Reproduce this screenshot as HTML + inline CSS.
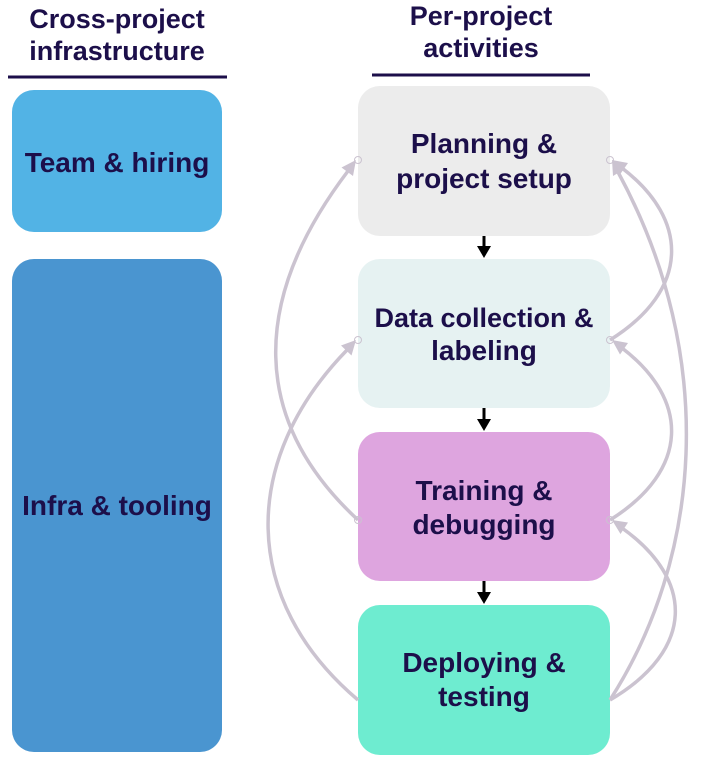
<!DOCTYPE html>
<html><head><style>
html,body{margin:0;padding:0;background:#fff;}
svg{display:block;}
text{font-family:"Liberation Sans",Arial,sans-serif;font-weight:bold;fill:#1c0f4a;text-anchor:middle;}
</style></head><body>
<svg width="704" height="762" viewBox="0 0 704 762" xmlns="http://www.w3.org/2000/svg">
<text x="117" y="28" font-size="27">Cross-project</text>
<text x="117" y="60" font-size="27">infrastructure</text>
<line x1="8" y1="77" x2="227" y2="77" stroke="#1c0f4a" stroke-width="3"/>
<text x="481" y="25" font-size="27">Per-project</text>
<text x="481" y="57" font-size="27">activities</text>
<line x1="372" y1="75" x2="590" y2="75" stroke="#1c0f4a" stroke-width="3"/>

<rect x="12" y="90" width="210" height="142" rx="22" fill="#52b3e5"/>
<text x="117" y="172" font-size="28">Team &amp; hiring</text>
<rect x="12" y="259" width="210" height="493" rx="22" fill="#4a95d0"/>
<text x="117" y="515" font-size="28">Infra &amp; tooling</text>

<rect x="358" y="86" width="252" height="150" rx="22" fill="#ececec"/>
<text x="484" y="153" font-size="28">Planning &amp;</text>
<text x="484" y="188" font-size="28">project setup</text>
<rect x="358" y="259" width="252" height="149" rx="22" fill="#e6f2f2"/>
<text x="484" y="327" font-size="27">Data collection &amp;</text>
<text x="484" y="360" font-size="28">labeling</text>
<rect x="358" y="432" width="252" height="149" rx="22" fill="#dea5df"/>
<text x="484" y="500" font-size="28">Training &amp;</text>
<text x="484" y="534" font-size="28">debugging</text>
<rect x="358" y="605" width="252" height="150" rx="22" fill="#6eecd0"/>
<text x="484" y="672" font-size="28">Deploying &amp;</text>
<text x="484" y="706" font-size="28">testing</text>

<g stroke="#000" stroke-width="3">
<line x1="484" y1="236" x2="484" y2="248"/>
<line x1="484" y1="408" x2="484" y2="421"/>
<line x1="484" y1="581" x2="484" y2="594"/>
</g>
<g fill="#000">
<polygon points="477,246 491,246 484,258"/>
<polygon points="477,419 491,419 484,431"/>
<polygon points="477,592 491,592 484,604"/>
</g>

<g fill="none" stroke="#cbc3d0" stroke-width="3.5">
<path d="M610,700 C700,560 720,360 618,172"/>
<path d="M610,340 C690,290 690,220 622,168"/>
<path d="M610,520 C690,470 690,400 622,348"/>
<path d="M610,700 C695,650 695,580 622,528"/>
<path d="M358,520 C250,420 250,300 348,171"/>
<path d="M358,700 C240,600 240,460 347,350"/>
</g>
<g fill="#cbc3d0">
<polygon points="612,160 625.5,168.6 613,176"/>
<polygon points="612,160 628,163 620,174.5"/>
<polygon points="612,340 628,343 620,354.5"/>
<polygon points="612,520 628,522.5 620.5,534"/>
<polygon points="356,160 353,176 341.5,167.5"/>
<polygon points="356,340 351.5,355.5 341,345.5"/>
</g>
<g fill="none" stroke="#cbc3d0" stroke-width="1">
<circle cx="358" cy="160" r="3.5"/><circle cx="610" cy="160" r="3.5"/>
<circle cx="358" cy="340" r="3.5"/><circle cx="610" cy="340" r="3.5"/>
<circle cx="358" cy="520" r="3.5"/><circle cx="610" cy="520" r="3.5"/>
</g>
</svg>
</body></html>
